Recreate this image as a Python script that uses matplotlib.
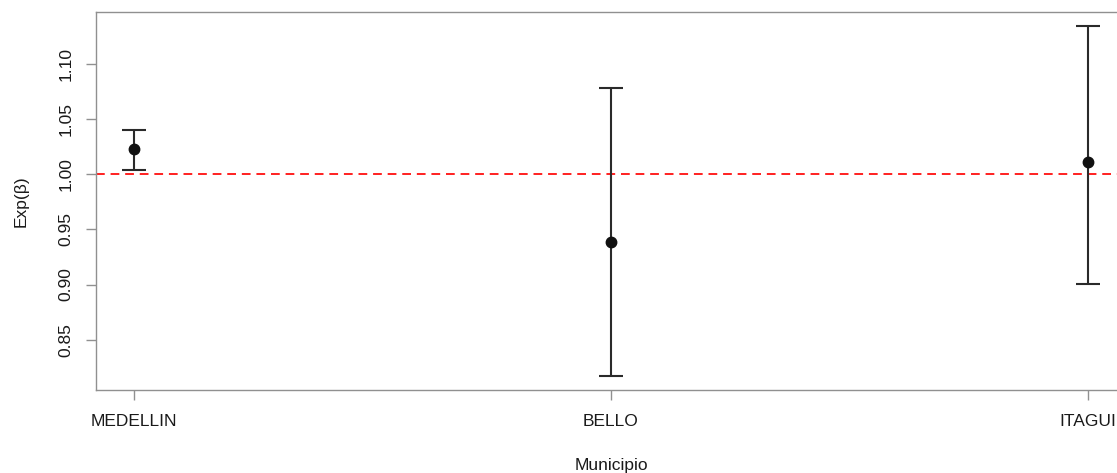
import matplotlib
matplotlib.use("Agg")
import matplotlib.pyplot as plt
import numpy as np

# Data
municipios = ["MEDELLIN", "BELLO", "ITAGUI"]
estimate = [1.0225, 0.9385, 1.0109]
lower = [1.0043, 0.8170, 0.9009]
upper = [1.0406, 1.0782, 1.1345]
yticks = [0.85, 0.90, 0.95, 1.00, 1.05, 1.10]
ytick_labels = ["0.85", "0.90", "0.95", "1.00", "1.05", "1.10"]

plt.rcParams['font.family'] = ['Liberation Sans', 'DejaVu Sans']

W, H = 1117, 473
fig = plt.figure(figsize=(W / 100, H / 100), dpi=100)
left, right, top, bottom = 96, 1126, 12, 390
ax = fig.add_axes([left / W, 1 - bottom / H, (right - left) / W, (bottom - top) / H])

x = np.arange(1, len(municipios) + 1)
est = np.array(estimate)
yerr = np.vstack([est - np.array(lower), np.array(upper) - est])

ax.axhline(1.0, color='#ff2020', lw=1.4, ls=(0, (4.5, 3.0)), zorder=1)
ax.errorbar(x, est, yerr=yerr, fmt='o', color='#111111', ecolor='#2a2a2a',
            elinewidth=1.5, capsize=8.6, capthick=1.5, markersize=7.5, zorder=3)

ax.set_xlim(0.92, 3.08)
ax.set_ylim(0.8043, 1.1472)
ax.set_xticks(x)
ax.set_xticklabels(municipios)
ax.set_yticks(yticks)
ax.set_yticklabels(ytick_labels, rotation=90, va='center')

for s in ax.spines.values():
    s.set_color('#909090')
    s.set_linewidth(1.0)
ax.spines['right'].set_visible(False)

ax.tick_params(axis='both', colors='#909090', length=7, width=1.0, labelsize=12.5,
               labelcolor='#1a1a1a')
ax.tick_params(axis='x', pad=10)
ax.tick_params(axis='y', pad=9)

ax.set_xlabel("Municipio", fontsize=12.5, color='#1a1a1a', labelpad=21)
ax.set_ylabel("Exp(\u03b2)", fontsize=12.5, color='#1a1a1a', labelpad=22)

fig.savefig("out.png", dpi=100, facecolor='white')
